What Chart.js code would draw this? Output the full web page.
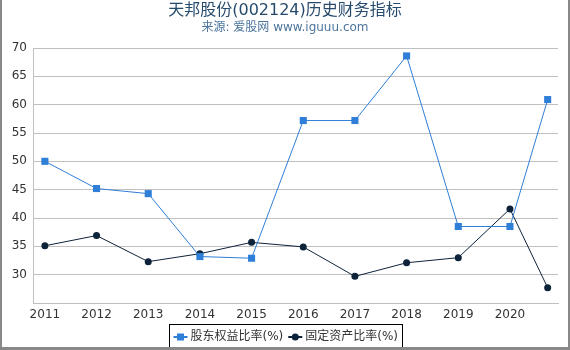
<!DOCTYPE html>
<html>
<head>
<meta charset="utf-8">
<script src="https://cdn.jsdelivr.net/npm/chart.js@4"></script>
<style>
  html, body { margin: 0; padding: 0; background: #fff; }
  #wrap {
    position: relative; width: 566px; height: 347px;
    border-left: 2px solid #888; border-right: 2px solid #888; border-bottom: 3px solid #888;
  }
</style>
</head>
<body>
<div id="wrap"><canvas id="chart" width="566" height="347"></canvas></div>
<script>
// Данные
const years = [2011, 2012, 2013, 2014, 2015, 2016, 2017, 2018, 2019, 2020, 2020.73];
const equityRatio = [50.0, 45.2, 44.3, 33.2, 32.9, 57.2, 57.2, 68.6, 38.5, 38.5, 60.9];
const fixedAssetRatio = [35.1, 36.9, 32.3, 33.7, 35.7, 34.9, 29.7, 32.1, 33.0, 41.6, 27.7];
const xTickLabels = [2011, 2012, 2013, 2014, 2015, 2016, 2017, 2018, 2019, 2020];
const seriesNames = ['股东权益比率(%)', '固定资产比率(%)'];
const titleText = '天邦股份(002124)历史财务指标';
const subtitleText = '来源: 爱股网 www.iguuu.com';

const FONT = '"DejaVu Sans", "Noto Sans CJK SC", sans-serif';

// Заголовок, подзаголовок и легенда в рамке
const decorPlugin = {
    id: 'decor',
    afterDraw(chart) {
        const ctx = chart.ctx;
        const cx = 283;
        ctx.save();
        ctx.textAlign = 'center';
        ctx.textBaseline = 'middle';
        ctx.fillStyle = '#274b6d';
        ctx.font = '16px ' + FONT;
        ctx.fillText(titleText, cx, 11);
        ctx.fillStyle = '#4d759e';
        ctx.font = '12px ' + FONT;
        ctx.fillText(subtitleText, cx, 28);

        // легенда
        ctx.font = '12px ' + FONT;
        const items = chart.data.datasets.map(ds => ({
            text: ds.label, color: ds.borderColor, style: ds.pointStyle
        }));
        const symW = 14, gap = 3, itemGap = 5;
        let total = 0;
        items.forEach(it => { it.w = symW + gap + ctx.measureText(it.text).width; total += it.w; });
        total += itemGap * (items.length - 1);
        const padX = 4;
        const boxW = Math.round(total + padX * 2);
        const boxX = Math.round(cx - boxW / 2) + 0.5;
        const boxY = 324.5;
        ctx.strokeStyle = '#000';
        ctx.lineWidth = 1;
        ctx.strokeRect(boxX, boxY, boxW, 26);
        let x = boxX + padX;
        const y = 337;
        items.forEach(it => {
            ctx.strokeStyle = it.color;
            ctx.lineWidth = 2;
            ctx.beginPath();
            ctx.moveTo(x, y);
            ctx.lineTo(x + symW, y);
            ctx.stroke();
            ctx.fillStyle = it.color;
            if (it.style === 'rect') {
                ctx.fillRect(x + symW / 2 - 3.5, y - 3.5, 7, 7);
            } else {
                ctx.beginPath();
                ctx.arc(x + symW / 2, y, 3.5, 0, Math.PI * 2);
                ctx.fill();
            }
            ctx.fillStyle = '#333';
            ctx.textAlign = 'left';
            ctx.fillText(it.text, x + symW + gap, y);
            x += it.w + itemGap;
        });
        ctx.restore();
    }
};

new Chart(document.getElementById('chart'), {
    type: 'line',
    data: {
        datasets: [
            {
                label: seriesNames[0],
                data: years.map((y, i) => ({ x: y, y: equityRatio[i] })),
                borderColor: '#2f7ed8',
                backgroundColor: '#2f7ed8',
                borderWidth: 1,
                pointStyle: 'rect',
                pointRadius: 5,
                pointBorderWidth: 0,
                tension: 0
            },
            {
                label: seriesNames[1],
                data: years.map((y, i) => ({ x: y, y: fixedAssetRatio[i] })),
                borderColor: '#0d233a',
                backgroundColor: '#0d233a',
                borderWidth: 1,
                pointStyle: 'circle',
                pointRadius: 3.5,
                pointBorderWidth: 0,
                tension: 0
            }
        ]
    },
    options: {
        responsive: false,
        animation: false,
        layout: { padding: { top: 48, bottom: 24, left: 0, right: 10 } },
        plugins: {
            legend: { display: false },
            title: { display: false },
            tooltip: { enabled: false }
        },
        scales: {
            x: {
                type: 'linear',
                min: 2010.77,
                max: 2020.93,
                afterBuildTicks: s => { s.ticks = xTickLabels.map(v => ({ value: v })); },
                afterFit: s => { s.height = 20; },
                grid: { display: false, drawTicks: true, tickLength: 4 },
                border: { color: '#c0c0c0' },
                ticks: {
                    color: '#333',
                    font: { family: FONT, size: 12 },
                    padding: 1,
                    maxRotation: 0,
                    callback: v => String(v)
                }
            },
            y: {
                min: 25,
                max: 70,
                afterFit: s => { s.width = 31; },
                grid: { color: '#c0c0c0', drawTicks: false },
                border: { display: true, color: '#c0c0c0' },
                ticks: {
                    stepSize: 5,
                    color: '#333',
                    font: { family: FONT, size: 12 },
                    padding: 6,
                    callback: v => (v === 25 ? '' : v)
                }
            }
        }
    },
    plugins: [decorPlugin]
});
</script>
</body>
</html>
